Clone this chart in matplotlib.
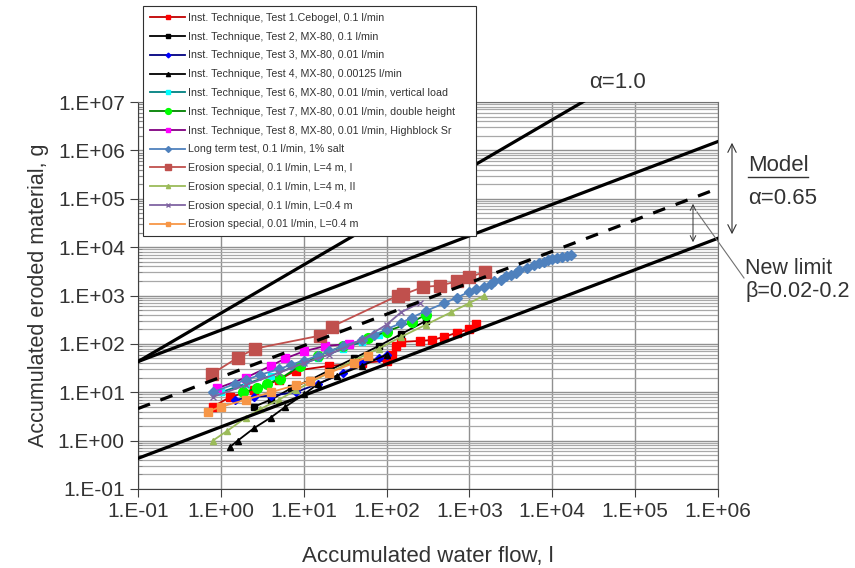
import numpy as np
import matplotlib
matplotlib.use("Agg")
import matplotlib.pyplot as plt
from matplotlib.ticker import LogLocator, FuncFormatter, NullFormatter
from matplotlib.lines import Line2D

plt.rcParams['font.family'] = ['Liberation Sans', 'DejaVu Sans']

# ---- measured series (water flow l, eroded material g) ----
labels = [
    "Inst. Technique, Test 1.Cebogel, 0.1 l/min",
    "Inst. Technique, Test 2, MX-80, 0.1 l/min",
    "Inst. Technique, Test 3, MX-80, 0.01 l/min",
    "Inst. Technique, Test 4, MX-80, 0.00125 l/min",
    "Inst. Technique, Test 6, MX-80, 0.01 l/min, vertical load",
    "Inst. Technique, Test 7, MX-80, 0.01 l/min, double height",
    "Inst. Technique, Test 8, MX-80, 0.01 l/min, Highblock Sr",
    "Long term test, 0.1 l/min, 1% salt",
    "Erosion special, 0.1 l/min, L=4 m, I",
    "Erosion special, 0.1 l/min, L=4 m, II",
    "Erosion special, 0.1 l/min, L=0.4 m",
    "Erosion special, 0.01 l/min, L=0.4 m",
]

x1 = [0.8, 1.3, 2.5, 5, 8, 20, 50, 100, 115, 130, 150, 250, 350, 500, 700, 1000, 1200]
y1 = [5, 8, 11, 18, 28, 35, 40, 45, 60, 90, 110, 115, 120, 140, 170, 200, 260]
x2 = [2.5, 4, 7, 12, 20, 40, 80, 150, 300]
y2 = [5, 7, 12, 18, 28, 50, 90, 160, 300]
x3 = [1.5, 2.5, 4, 8, 15, 30, 50, 80, 100]
y3 = [7, 8, 8.5, 10, 15, 25, 40, 50, 60]
x4 = [1.3, 1.6, 2.5, 4, 6, 10, 15, 25, 50, 100]
y4 = [0.75, 1.0, 1.8, 3, 5, 9, 15, 22, 35, 60]
x5 = [1, 2, 4, 8, 15, 30, 50, 80]
y5 = [10, 15, 22, 35, 50, 80, 110, 150]
x6 = [1.85, 2.7, 3.6, 5.2, 9, 15, 30, 60, 100, 200, 300]
y6 = [10, 12, 15, 19, 35, 57, 90, 130, 180, 280, 400]
x7 = [0.9, 2, 4, 6, 10, 18, 35]
y7 = [12, 20, 35, 50, 70, 90, 100]
x8 = [0.8, 1.5, 2, 3, 5, 7, 10, 15, 20, 30, 50, 70, 100, 150, 200, 300, 500, 700,
      1000, 1200, 1500, 1800, 2000, 2400, 2800, 3200, 3600, 4000, 5000, 6000,
      7000, 8000, 9000, 10000, 11500, 13000, 15000, 17000]
y8 = [10, 15, 18, 23, 30, 37, 45, 57, 70, 90, 120, 150, 200, 270, 350, 480, 700, 900,
      1200, 1350, 1500, 1700, 2000, 2100, 2500, 2700, 2900, 3300, 3700, 4300,
      4600, 5000, 5300, 5800, 6000, 6300, 6700, 7000]
x9 = [0.78, 1.6, 2.6, 15.7, 22, 138, 160, 275, 436, 700, 1000, 1550]
y9 = [24, 52, 80, 148, 228, 1000, 1050, 1500, 1600, 1950, 2400, 3100]
x10 = [0.8, 1.2, 2, 3, 5, 8, 12, 20, 40, 80, 150, 300, 600, 1000, 1500]
y10 = [1, 1.6, 3, 4.5, 7, 11, 16, 25, 45, 80, 140, 250, 450, 700, 1000]
x11 = [0.8, 2, 5, 10, 20, 50, 100, 150, 250]
y11 = [8, 14, 25, 40, 60, 120, 250, 450, 700]
x12 = [0.7, 1, 2, 4, 8, 12, 20, 40, 60]
y12 = [4, 5, 7, 10, 14, 17, 25, 40, 55]

xs = [x1, x2, x3, x4, x5, x6, x7, x8, x9, x10, x11, x12]
ys = [y1, y2, y3, y4, y5, y6, y7, y8, y9, y10, y11, y12]

line_colors = ["#C00000", "#000000", "#000080", "#000000", "#008080", "#008000",
               "#800080", "#4F81BD", "#C0504D", "#9BBB59", "#8064A2", "#F79646"]
face_colors = ["#FF0000", "#000000", "#0000FF", "#000000", "#00FFFF", "#00FF00",
               "#FF00FF", "#4F81BD", "#C0504D", "#9BBB59", "#8064A2", "#F79646"]
markers = ["s", "s", "D", "^", "s", "o", "s", "D", "s", "^", "x", "s"]
msizes = [6, 5, 4, 5, 5, 7, 6, 5, 8, 5, 5, 6]

# ---- model lines: m = m0 * (Q / 0.1)^alpha ----
model_m0 = [43, 43, 4.6, 0.43]
model_a = [1.0, 0.65, 0.65, 0.65]
model_ls = ["-", "-", "--", "-"]

fig = plt.figure(figsize=(8.55, 5.68), dpi=100)
ax = fig.add_axes([138 / 855, 1 - 489 / 568, 580 / 855, 387 / 568])
ax.set_xscale("log")
ax.set_yscale("log")
ax.set_xlim(1e-1, 1e6)
ax.set_ylim(1e-1, 1e7)

handles = []
for i in range(12):
    h, = ax.plot(xs[i], ys[i], color=line_colors[i], lw=1.3, marker=markers[i],
                 ms=msizes[i], mfc=face_colors[i], mec=face_colors[i], zorder=3,
                 label=labels[i])
    handles.append(h)

q = np.logspace(-1, 6, 50)
for m0, a, ls in zip(model_m0, model_a, model_ls):
    if ls == "--":
        ax.plot(q, m0 * (q / 0.1) ** a, color="black", lw=2.3, dashes=(4, 3.5), zorder=4)
    else:
        ax.plot(q, m0 * (q / 0.1) ** a, color="black", lw=2.3, zorder=4)

ax.yaxis.set_major_locator(LogLocator(base=10, numticks=20))
ax.yaxis.set_minor_locator(LogLocator(base=10, subs=np.arange(2, 10), numticks=20))
ax.yaxis.set_minor_formatter(NullFormatter())
ax.xaxis.set_major_locator(LogLocator(base=10, numticks=20))
ax.xaxis.set_minor_locator(LogLocator(base=10, subs=[], numticks=20))
fmt = FuncFormatter(lambda v, p: "1.E%+03d" % int(round(np.log10(v))))
ax.xaxis.set_major_formatter(fmt)
ax.yaxis.set_major_formatter(fmt)
ax.tick_params(which="major", direction="out", length=6, labelsize=15,
               colors="#404040", labelcolor="#333333")
ax.tick_params(which="minor", direction="in", length=3, color="#808080")

ax.grid(True, which="major", axis="both", color="#909090", lw=1.0, zorder=0)
ax.grid(True, which="minor", axis="y", color="#A8A8A8", lw=0.9, zorder=0)
for s in ax.spines.values():
    s.set_color("#707070")
ax.spines["left"].set_color("#404040")
ax.spines["bottom"].set_color("#404040")

ax.set_xlabel("Accumulated water flow, l", fontsize=16, color="#333333", labelpad=18)
ax.set_ylabel("Accumulated eroded material, g", fontsize=15.5, color="#333333", labelpad=6)

leg = fig.legend(handles=handles, loc="upper left",
                 bbox_to_anchor=(143 / 855, 1 - 6 / 568, 333 / 855, 0), mode="expand",
                 fontsize=7.7, frameon=True, fancybox=False, framealpha=1,
                 edgecolor="#303030", handlelength=3.3, handletextpad=0.3,
                 labelspacing=0.82, borderpad=0.65, borderaxespad=0, markerscale=0.6)
leg.get_frame().set_linewidth(0.8)
leg.set_zorder(10)
for t in leg.get_texts():
    t.set_color("#333333")

# ---- annotations (figure pixel coordinates) ----
def fx(px):
    return px / 855

def fy(py):
    return 1 - py / 568

fig.text(fx(617), fy(82), "α=1.0", fontsize=16, color="#333333", ha="center", va="center")
fig.text(fx(748), fy(166), "Model", fontsize=16, color="#333333", ha="left", va="center")
fig.add_artist(Line2D([fx(748), fx(808)], [fy(177), fy(177)], color="#333333", lw=1.0))
fig.text(fx(748), fy(199), "α=0.65", fontsize=16, color="#333333", ha="left", va="center")
fig.text(fx(745), fy(268), "New limit", fontsize=15.5, color="#333333", ha="left", va="center")
fig.text(fx(745), fy(292), "β=0.02-0.2", fontsize=15.5, color="#333333", ha="left", va="center")

fig.add_artist(matplotlib.patches.FancyArrowPatch(
    (fx(732), fy(140)), (fx(732), fy(237)), transform=fig.transFigure,
    arrowstyle="<->,head_length=6,head_width=3", color="#333333", lw=0.8))
fig.add_artist(matplotlib.patches.FancyArrowPatch(
    (fx(693), fy(201)), (fx(693), fy(245)), transform=fig.transFigure,
    arrowstyle="<->,head_length=4,head_width=2", color="#333333", lw=0.7, zorder=6))
fig.add_artist(Line2D([fx(697), fx(744)], [fy(212), fy(278)], color="#707070", lw=0.8))

fig.savefig("out.png", dpi=100)
